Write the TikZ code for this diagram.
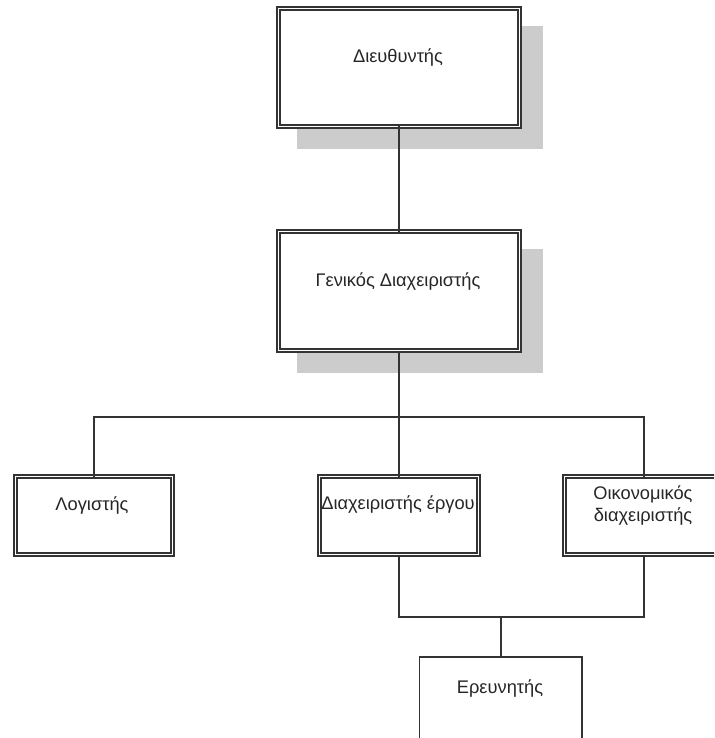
\documentclass[tikz,border=0pt]{standalone}
\usepackage{fontspec}
\setmainfont{Liberation Sans}
\usetikzlibrary{backgrounds}
\newdimen\upx \upx=0.75pt
\definecolor{linec}{HTML}{333333}
\definecolor{shadowc}{HTML}{CCCCCC}
\definecolor{textc}{HTML}{262626}
\tikzset{
 dbox/.style={rectangle, draw=linec, line width=1.7\upx, double=white, double distance=1.5\upx, fill=white, inner sep=0pt, outer sep=0pt},
 sbox/.style={rectangle, draw=linec, line width=1.5\upx, fill=white, inner sep=0pt, outer sep=0pt},
 conn/.style={draw=linec, line width=1.5\upx},
 shadowfill/.style={fill=shadowc},
 lbl/.style={font=\fontsize{13.7}{16.5}\selectfont, text=textc, inner sep=0pt, align=center, anchor=base},
}
\begin{document}
\begin{tikzpicture}[x=0.75pt, y=-0.75pt]
\useasboundingbox (0,0) rectangle (714,738);
\begin{scope}
\clip (0,0) rectangle (714,738);
% boxes
\node[dbox, minimum width=241\upx, minimum height=118\upx] (dir) at (399,67.5) {};
\node[dbox, minimum width=241\upx, minimum height=119\upx] (gm) at (399,291) {};
\node[dbox, minimum width=157\upx, minimum height=78\upx] (acc) at (94,515.5) {};
\node[dbox, minimum width=159\upx, minimum height=78\upx] (pm) at (399,515.5) {};
\node[dbox, minimum width=159\upx, minimum height=78\upx] (fin) at (644,515.5) {};
\node[sbox, minimum width=162.5\upx, minimum height=84\upx] (res) at (500.75,699) {};
% shadows
\begin{scope}[on background layer]
\fill[shadowfill] ([shift={(18.6,17.6)}]dir.north west) rectangle ([shift={(23.4,22.4)}]dir.south east);
\fill[shadowfill] ([shift={(18.6,17.6)}]gm.north west) rectangle ([shift={(23.4,22.4)}]gm.south east);
\end{scope}
% labels
\node[lbl] (tdir) at (398,62.5) {Διευθυντής};
\node[lbl] (tgm) at (398,286.5) {Γενικός Διαχειριστής};
\node[lbl] (tacc) at (92,510.7) {Λογιστής};
\node[lbl] (tpm) at (398,509.3) {Διαχειριστής έργου};
\node[lbl] (tfin) at (643,521.5) {Οικονομικός\\διαχειριστής};
\node[lbl] (tres) at (500,693.3) {Ερευνητής};
% connectors
\coordinate (bus) at (399,417);
\coordinate (low) at (500.75,617);
\draw[conn] (dir.south) -- (gm.north);
\draw[conn] (gm.south) -- (bus);
\draw[conn] (acc.north) |- (bus) -| (fin.north);
\draw[conn] (bus) -- (pm.north);
\draw[conn] (pm.south) |- (low) -| (fin.south);
\draw[conn] (low) -- (res.north);
\end{scope}
\end{tikzpicture}
\end{document}
